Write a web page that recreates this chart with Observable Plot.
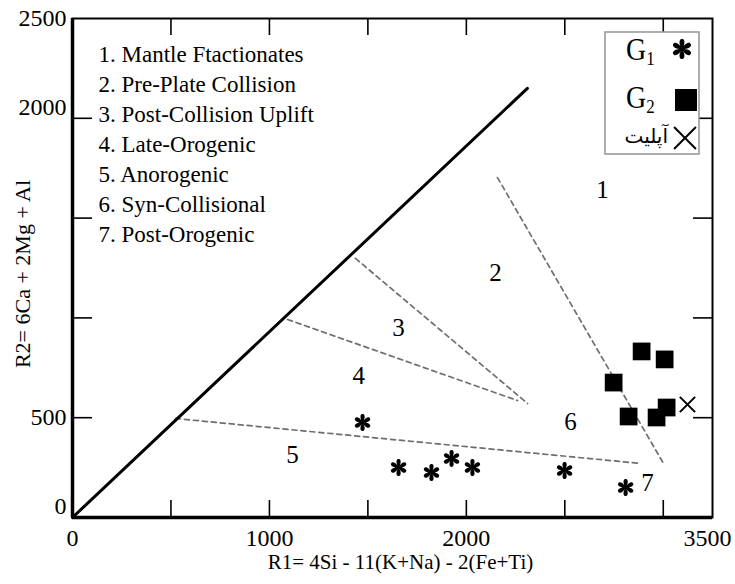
<!DOCTYPE html>
<html>
<head>
<meta charset="utf-8">
<script src="https://cdn.jsdelivr.net/npm/d3@7"></script>
<script src="https://cdn.jsdelivr.net/npm/@observablehq/plot@0.6"></script>
<style>
  body { margin: 0; background: #fff; }
  #chart { position: relative; width: 735px; height: 584px; }
  #key { position: absolute; left: 604px; top: 31px; }
</style>
</head>
<body>
<div id="chart"></div>
<script>
// Batchelor & Bowden R1–R2 discrimination fields
const zoneNames = [
  "1. Mantle Ftactionates",
  "2. Pre-Plate Collision",
  "3. Post-Collision Uplift",
  "4. Late-Orogenic",
  "5. Anorogenic",
  "6. Syn-Collisional",
  "7. Post-Orogenic"
];
const zoneNumbers = ["1", "2", "3", "4", "5", "6", "7"];
const zoneR1 = [2692, 2148, 1656, 1453, 1117, 2529, 2920];
const zoneR2 = [1643, 1227, 947, 711, 311, 476, 175];

// solid reference line from the origin
const trendR1 = [0, 2310];
const trendR2 = [0, 2150];

// dashed field boundaries (start and end points)
const boundaryIds = ["4/5", "3/4", "2/3", "1/2-6/7"];
const boundaryR1 = [[523, 2880], [1092, 2260], [1437, 2311], [2158, 3007]];
const boundaryR2 = [[496, 271], [992, 586], [1298, 571], [1703, 261]];

// samples
const g1R1 = [1473, 1656, 1823, 1925, 2031, 2499, 2809];
const g1R2 = [476, 250, 225, 296, 250, 235, 150];
const g2R1 = [2890, 3007, 2748, 2824, 2966, 3017];
const g2R2 = [832, 792, 676, 506, 501, 551];
const apliteR1 = [3123];
const apliteR2 = [566];

// axes
const xTickValues = [500, 1000, 1500, 2000, 2500, 3000];
const yTickValues = [500, 1000, 1500, 2000];
const xLabelValues = [0, 1000, 2000];
const xLabelTexts = ["0", "1000", "2000"];
const xEndValue = 3250;
const xEndText = "3500";
const yLabelValues = [0, 500, 2000, 2500];
const yLabelTexts = ["0", "500", "2000", "2500"];
const yLabelRaised = [true, false, true, false];

const keyLabels = ["G", "G", "آپلیت"];
const keySubscripts = ["1", "2", ""];

// six teardrop-spoked asterisk
const asterisk = {
  draw(context, size) {
    const R = Math.sqrt(size / Math.PI);
    for (let k = 0; k < 6; k++) {
      const a = Math.PI / 2 + k * Math.PI / 3;
      const c = Math.cos(a), s = Math.sin(a);
      const P = (u, v) => [u * c - v * s, u * s + v * c];
      const p0 = P(0.05 * R, 0);
      const p1 = P(0.4 * R, 0.34 * R), p2 = P(1.05 * R, 0.32 * R), p3 = P(R, 0);
      const p4 = P(1.05 * R, -0.32 * R), p5 = P(0.4 * R, -0.34 * R);
      context.moveTo(...p0);
      context.bezierCurveTo(...p1, ...p2, ...p3);
      context.bezierCurveTo(...p4, ...p5, ...p0);
      context.closePath();
    }
    const rc = 0.2 * R;
    context.moveTo(rc, 0);
    context.arc(0, 0, rc, 0, 2 * Math.PI, true);
    context.closePath();
  }
};

const width = 735, height = 584;
const margin = {left: 72, right: 23, top: 18, bottom: 67};
const innerW = width - margin.left - margin.right;
const innerH = height - margin.top - margin.bottom;

const trend = trendR1.map((x, i) => ({x, y: trendR2[i]}));
const boundaries = boundaryIds.flatMap((id, i) =>
  boundaryR1[i].map((x, j) => ({id, x, y: boundaryR2[i][j]})));
const zones = zoneNumbers.map((t, i) => ({t, x: zoneR1[i], y: zoneR2[i]}));
const g1 = g1R1.map((x, i) => ({x, y: g1R2[i]}));
const g2 = g2R1.map((x, i) => ({x, y: g2R2[i]}));
const aplite = apliteR1.map((x, i) => ({x, y: apliteR2[i]}));
const yLabels = yLabelValues.map((v, i) => ({v, t: yLabelTexts[i], raised: yLabelRaised[i]}));

const serif = "'Liberation Serif', 'Times New Roman', serif";

const chart = Plot.plot({
  width, height,
  marginLeft: margin.left, marginRight: margin.right,
  marginTop: margin.top, marginBottom: margin.bottom,
  x: {domain: [0, xEndValue], axis: null},
  y: {domain: [0, 2500], axis: null},
  style: {fontFamily: serif, background: "white", color: "black", overflow: "visible"},
  marks: [
    // field boundaries
    Plot.line(boundaries, {x: "x", y: "y", z: "id", stroke: "#6e6e6e", strokeWidth: 1.7, strokeDasharray: "5,4"}),
    Plot.line(trend, {x: "x", y: "y", stroke: "black", strokeWidth: 3}),

    // frame and inward ticks
    Plot.frame({stroke: "black", strokeWidth: 2}),
    Plot.ruleX([0], {stroke: "black", strokeWidth: 3.5}),
    Plot.ruleY([0], {stroke: "black", strokeWidth: 3.5}),
    Plot.tickX(xTickValues, {x: d => d, insetTop: innerH - 17, strokeWidth: 1.6}),
    Plot.tickX(xTickValues, {x: d => d, insetBottom: innerH - 17, strokeWidth: 1.6}),
    Plot.tickY(yTickValues, {y: d => d, insetRight: innerW - 20, strokeWidth: 1.6}),
    Plot.tickY(yTickValues, {y: d => d, insetLeft: innerW - 19, strokeWidth: 1.6}),

    // tick labels
    Plot.text(xLabelValues, {x: d => d, text: (d, i) => xLabelTexts[i], frameAnchor: "bottom", lineAnchor: "middle", dy: 21, fontSize: 24, ariaLabel: "tick-label"}),
    Plot.text([xEndValue], {x: d => d, text: () => xEndText, frameAnchor: "bottom", lineAnchor: "middle", dy: 21, dx: -5, fontSize: 24, ariaLabel: "tick-label"}),
    Plot.text(yLabels.filter(d => d.raised), {y: "v", text: "t", frameAnchor: "left", textAnchor: "end", lineAnchor: "middle", dx: -6, dy: -11, fontSize: 24, ariaLabel: "tick-label"}),
    Plot.text(yLabels.filter(d => !d.raised), {y: "v", text: "t", frameAnchor: "left", textAnchor: "end", lineAnchor: "middle", dx: -6, dy: 0, fontSize: 24, ariaLabel: "tick-label"}),

    // axis titles
    Plot.text(["R1= 4Si - 11(K+Na) - 2(Fe+Ti)"], {frameAnchor: "bottom", textAnchor: "middle", lineAnchor: "middle", dx: 8, dy: 45, fontSize: 21}),
    Plot.text(["R2= 6Ca + 2Mg + Al"], {frameAnchor: "left", textAnchor: "middle", rotate: -90, lineAnchor: "middle", dx: -50, dy: 6, fontSize: 22}),

    // field list
    Plot.text([zoneNames.join("\n")], {frameAnchor: "top-left", textAnchor: "start", lineAnchor: "middle", lineHeight: 1.304, dx: 26, dy: 124, fontSize: 23}),

    // field numbers
    Plot.text(zones, {x: "x", y: "y", text: "t", fontSize: 25}),

    // samples
    Plot.dot(g1, {x: "x", y: "y", symbol: asterisk, r: 8.5, fill: "black", stroke: "none"}),
    Plot.dot(g2, {x: "x", y: "y", symbol: "square", r: 10, fill: "black", stroke: "none"}),
    Plot.dot(aplite, {x: "x", y: "y", symbol: "times", r: 7, stroke: "black", strokeWidth: 2, fill: "none"})
  ]
});

// the numerals are set in a slightly tall face
d3.select(chart).selectAll('g[aria-label="tick-label"] text').each(function () {
  const t = this.getAttribute("transform") || "";
  this.setAttribute("transform", t + " scale(1,1.22)");
});

const holder = document.getElementById("chart");
holder.appendChild(chart);

// symbol key
const key = d3.create("svg")
  .attr("id", "key")
  .attr("width", 97).attr("height", 125)
  .style("font-family", serif);
key.append("rect")
  .attr("x", 1).attr("y", 1).attr("width", 94).attr("height", 122)
  .attr("fill", "white").attr("stroke", "#9a9a9a").attr("stroke-width", 1.6);

const rowY = [29, 77];
[0, 1].forEach(i => {
  const t = key.append("text").attr("x", 22).attr("y", rowY[i]).attr("font-size", 28)
    .attr("fill", "black").attr("transform", `translate(0,${rowY[i]}) scale(1,1.15) translate(0,${-rowY[i]})`);
  t.append("tspan").text(keyLabels[i]);
  t.append("tspan").attr("font-size", 17).attr("dy", 4).text(keySubscripts[i]);
});
key.append("text")
  .attr("x", 64).attr("y", 112)
  .attr("text-anchor", "end")
  .attr("font-family", "'DejaVu Sans', 'Noto Sans', sans-serif")
  .attr("font-size", 20)
  .attr("fill", "black")
  .text(keyLabels[2]);

key.append("path")
  .attr("transform", "translate(78,18)")
  .attr("d", d3.symbol(asterisk, Math.PI * 10 * 10)())
  .attr("fill", "black");
key.append("path")
  .attr("transform", "translate(82,69)")
  .attr("d", d3.symbol(d3.symbolSquare, 22 * 22)())
  .attr("fill", "black");
key.append("path")
  .attr("transform", "translate(81,107)")
  .attr("d", d3.symbol(d3.symbolTimes, Math.PI * 10 * 10)())
  .attr("fill", "none").attr("stroke", "black").attr("stroke-width", 2);

holder.appendChild(key.node());
</script>
</body>
</html>
